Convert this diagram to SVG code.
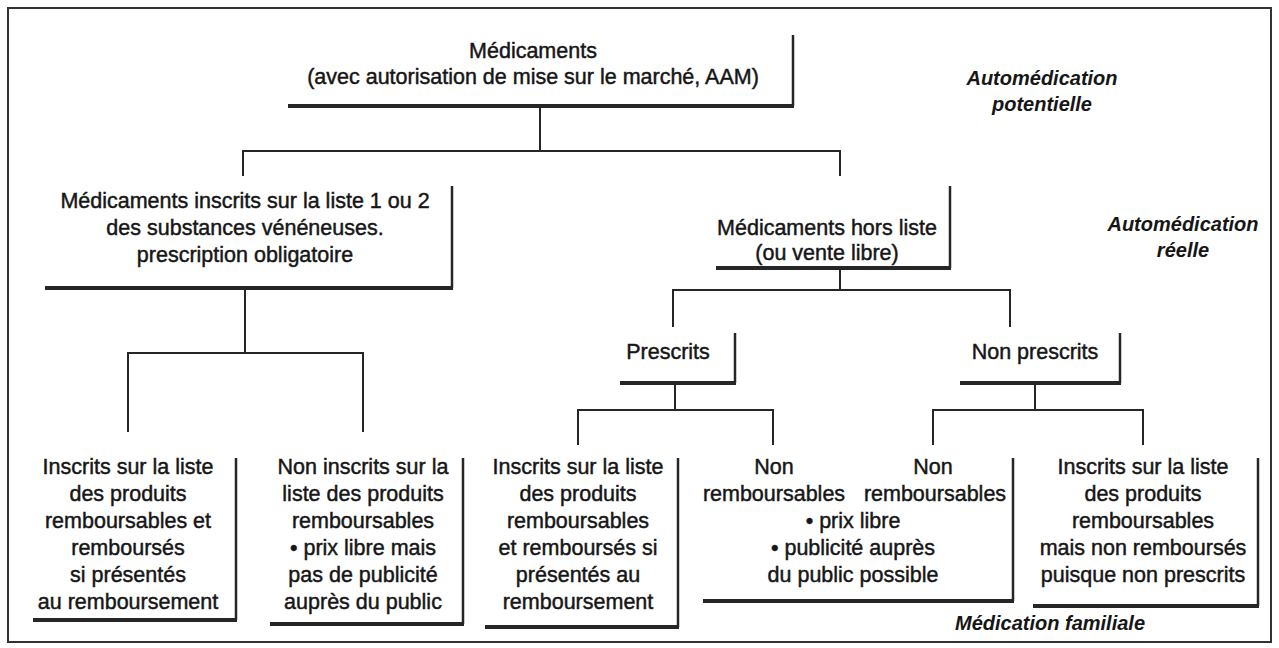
<svg xmlns="http://www.w3.org/2000/svg" width="1279" height="648" viewBox="0 0 1279 648">
<style>
.t{font-family:"Liberation Sans",Arial,sans-serif;font-size:21.5px;fill:#161616;stroke:#161616;stroke-width:0.45;text-anchor:middle}
.lab{font-family:"Liberation Sans",Arial,sans-serif;font-size:20px;font-weight:bold;font-style:italic;fill:#161616;text-anchor:middle}
.side{stroke:#262626;stroke-width:2.5;fill:none}
.base{stroke:#262626;stroke-width:4;fill:none}
.c{stroke:#262626;stroke-width:2;fill:none}
</style>
<rect width="1279" height="648" fill="#ffffff"/>
<rect x="8" y="8" width="1263" height="634" fill="none" stroke="#333" stroke-width="2"/>

<g id="connectors">
<path class="c" d="M540 106V151M243 176V151H840V176"/>
<path class="c" d="M245 288V353M128 432V353H363V432"/>
<path class="c" d="M840 268V290M673 327V290H1010V327"/>
<path class="c" d="M675 383V410M578 445V410H773V445"/>
<path class="c" d="M1035 383V410M933 445V410H1143V445"/>
</g>

<g id="root">
<text class="t" x="533" y="58">Médicaments</text>
<text class="t" x="533" y="84">(avec autorisation de mise sur le marché, AAM)</text>
<path class="side" d="M793 35V106"/>
<path class="base" d="M288 106H794"/>
</g>

<g id="label-potentielle">
<text class="lab" x="1042" y="85">Automédication</text>
<text class="lab" x="1042" y="111">potentielle</text>
</g>

<g id="label-reelle">
<text class="lab" x="1183" y="231">Automédication</text>
<text class="lab" x="1183" y="257">réelle</text>
</g>

<g id="liste">
<text class="t" x="245" y="208">Médicaments inscrits sur la liste 1 ou 2</text>
<text class="t" x="245" y="235">des substances vénéneuses.</text>
<text class="t" x="245" y="262">prescription obligatoire</text>
<path class="side" d="M452 186V288"/>
<path class="base" d="M45 288H453"/>
</g>

<g id="hors-liste">
<text class="t" x="827" y="235">Médicaments hors liste</text>
<text class="t" x="827" y="260">(ou vente libre)</text>
<path class="side" d="M950 186V268"/>
<path class="base" d="M716 268H951"/>
</g>

<g id="prescrits">
<text class="t" x="668" y="359">Prescrits</text>
<path class="side" d="M735 333V383"/>
<path class="base" d="M620 383H736"/>
</g>

<g id="non-prescrits">
<text class="t" x="1035" y="359">Non prescrits</text>
<path class="side" d="M1120 333V383"/>
<path class="base" d="M960 383H1121"/>
</g>

<g id="leaf1">
<text class="t" x="128" y="474">Inscrits sur la liste</text>
<text class="t" x="128" y="501">des produits</text>
<text class="t" x="128" y="528">remboursables et</text>
<text class="t" x="128" y="555">remboursés</text>
<text class="t" x="128" y="582">si présentés</text>
<text class="t" x="128" y="609">au remboursement</text>
<path class="side" d="M236 458V620"/>
<path class="base" d="M33 620H237"/>
</g>

<g id="leaf2">
<text class="t" x="363" y="474">Non inscrits sur la</text>
<text class="t" x="363" y="501">liste des produits</text>
<text class="t" x="363" y="528">remboursables</text>
<text class="t" x="363" y="555">• prix libre mais</text>
<text class="t" x="363" y="582">pas de publicité</text>
<text class="t" x="363" y="609">auprès du public</text>
<path class="side" d="M463 458V624"/>
<path class="base" d="M270 624H464"/>
</g>

<g id="leaf3">
<text class="t" x="578" y="474">Inscrits sur la liste</text>
<text class="t" x="578" y="501">des produits</text>
<text class="t" x="578" y="528">remboursables</text>
<text class="t" x="578" y="555">et remboursés si</text>
<text class="t" x="578" y="582">présentés au</text>
<text class="t" x="578" y="609">remboursement</text>
<path class="side" d="M678 458V627"/>
<path class="base" d="M485 627H679"/>
</g>

<g id="leaf4">
<text class="t" x="774" y="474">Non</text>
<text class="t" x="933" y="474">Non</text>
<text class="t" x="774" y="501">remboursables</text>
<text class="t" x="935" y="501">remboursables</text>
<text class="t" x="853" y="528">• prix libre</text>
<text class="t" x="853" y="555">• publicité auprès</text>
<text class="t" x="853" y="582">du public possible</text>
<path class="side" d="M1013 458V601"/>
<path class="base" d="M703 601H1014"/>
</g>

<g id="leaf5">
<text class="t" x="1143" y="474">Inscrits sur la liste</text>
<text class="t" x="1143" y="501">des produits</text>
<text class="t" x="1143" y="528">remboursables</text>
<text class="t" x="1143" y="555">mais non remboursés</text>
<text class="t" x="1143" y="582">puisque non prescrits</text>
<path class="side" d="M1258 458V606"/>
<path class="base" d="M1033 606H1259"/>
</g>

<g id="label-familiale">
<text class="lab" x="1050" y="630">Médication familiale</text>
</g>
</svg>
